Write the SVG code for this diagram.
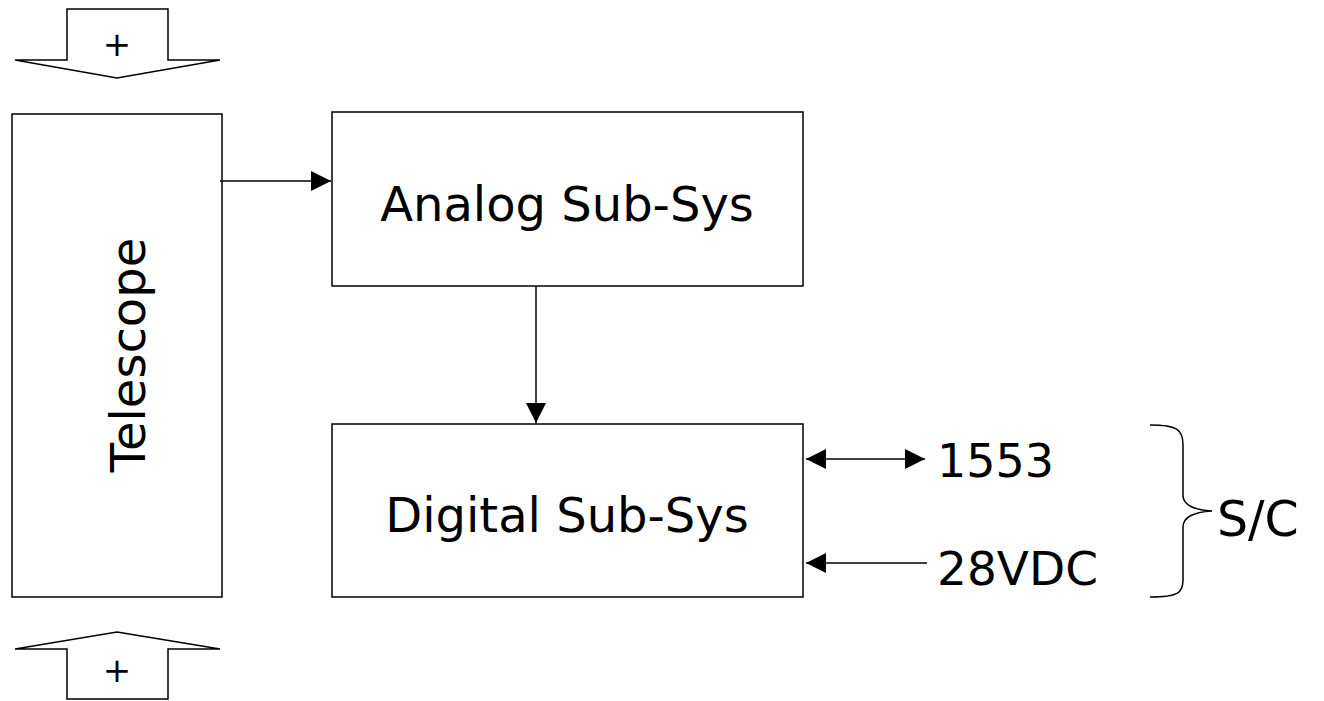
<svg xmlns="http://www.w3.org/2000/svg" width="1324" height="701" viewBox="0 0 1324 701">
<style>
.box{fill:#fff;stroke:#000;stroke-width:1.5}
.ln{fill:none;stroke:#000;stroke-width:1.5}
.t{font-family:"DejaVu Sans",Verdana,sans-serif;fill:#000}
</style>
<defs>
<marker id="ah" viewBox="0 0 10 10" refX="10" refY="5" markerWidth="20" markerHeight="20" markerUnits="userSpaceOnUse" orient="auto-start-reverse">
<path d="M0,0 L10,5 L0,10 z" fill="#000"/>
</marker>
</defs>
<rect width="1324" height="701" fill="#fff"/>
<g id="top-arrow">
<path class="ln" d="M67,9 L168,9 L168,60 L220,60 L117,78 L15,60 L67,60 Z"/>
<text class="t" x="117" y="56" font-size="34" text-anchor="middle">+</text>
</g>
<g id="bottom-arrow">
<path class="ln" d="M117,632 L220,649 L168,649 L168,699 L67,699 L67,649 L15,649 Z"/>
<text class="t" x="117" y="682" font-size="34" text-anchor="middle">+</text>
</g>
<g id="telescope">
<rect class="box" x="12" y="114" width="210" height="483"/>
<text class="t" transform="translate(145,355) rotate(-90)" font-size="48" text-anchor="middle">Telescope</text>
</g>
<g id="analog">
<rect class="box" x="332" y="112" width="471" height="174"/>
<text class="t" x="567" y="221" font-size="48" text-anchor="middle">Analog Sub-Sys</text>
</g>
<g id="digital">
<rect class="box" x="332" y="424" width="471" height="173"/>
<text class="t" x="567" y="532" font-size="48" text-anchor="middle">Digital Sub-Sys</text>
</g>
<g id="labels">
<text class="t" x="937" y="477" font-size="46">1553</text>
<text class="t" x="937" y="585" font-size="47">28VDC</text>
<text class="t" x="1217" y="536" font-size="49">S/C</text>
</g>
<g id="connectors">
<line class="ln" x1="220" y1="181" x2="331" y2="181" marker-end="url(#ah)"/>
<line class="ln" x1="536" y1="286" x2="536" y2="423" marker-end="url(#ah)"/>
<line class="ln" x1="806" y1="459" x2="925" y2="459" marker-start="url(#ah)" marker-end="url(#ah)"/>
<line class="ln" x1="927" y1="563" x2="806" y2="563" marker-end="url(#ah)"/>
<path class="ln" d="M1150,425 C1178,425 1183,430 1183,445 L1183,495 C1183,505 1195,510 1212,511 C1195,512 1183,517 1183,527 L1183,580 C1183,593 1178,597 1150,597"/>
</g>
</svg>
